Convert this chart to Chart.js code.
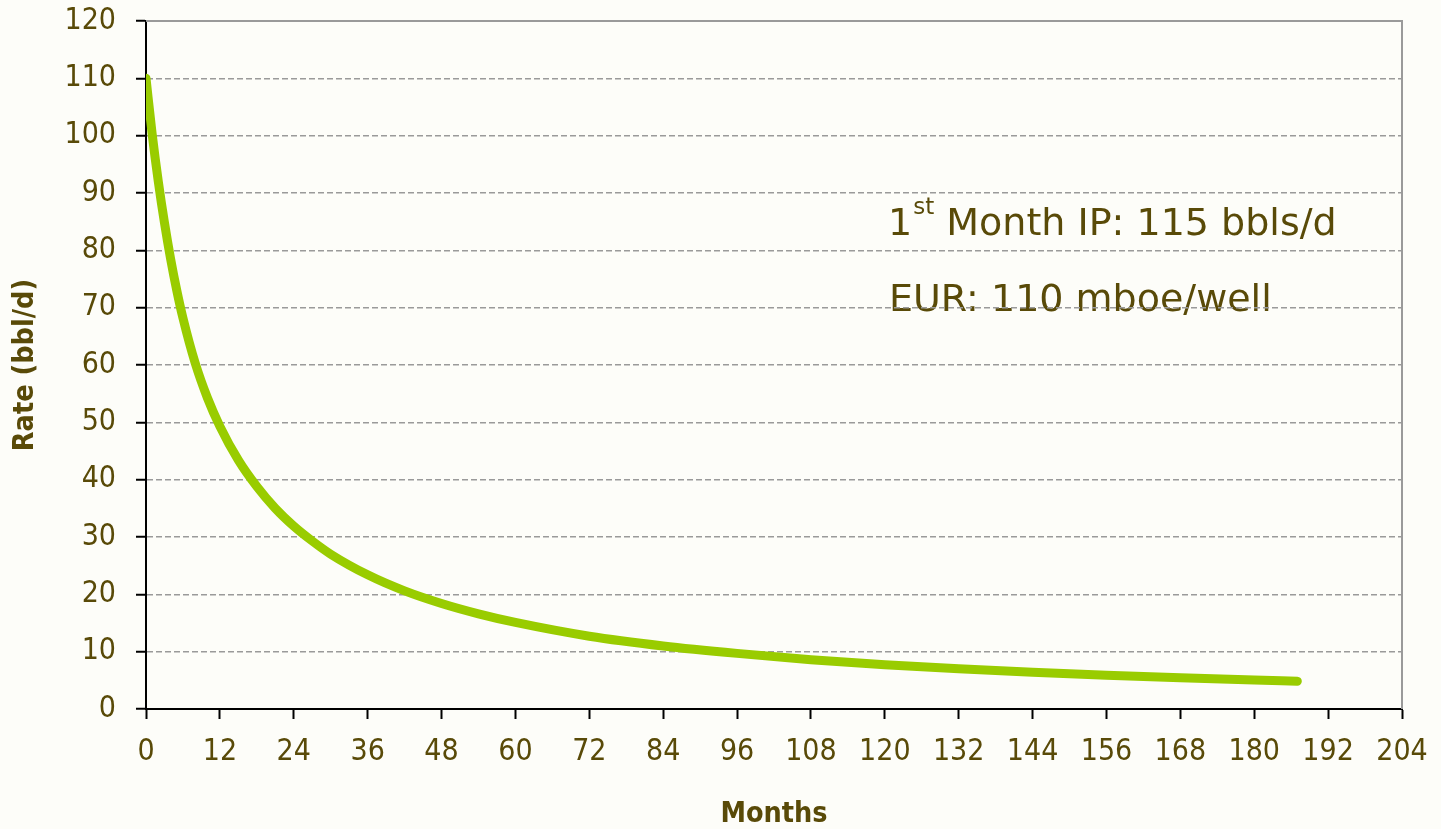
<!DOCTYPE html>
<html>
<head>
  <meta charset="UTF-8">
  <title>Type curve – rate vs months</title>
  <script src="https://cdn.jsdelivr.net/npm/chart.js"></script>
  <style>
    body { margin: 0; background: #fdfdf9; }
    canvas { display: block; }
  </style>
</head>
<body>
  <canvas id="chart" width="1441" height="829"></canvas>

  <script>
    // values
    const months = [0, 1, 2, 3, 4, 5, 6, 8, 10, 12, 15, 18, 21, 24, 27, 30, 36, 42, 48, 54, 60, 72, 84, 96, 108, 120, 132, 144, 156, 168, 180, 187];
    const rates = [110, 100.3, 92, 84.8, 78.5, 73, 68.2, 60.3, 54.2, 49.3, 43.4, 38.8, 35, 31.9, 29.3, 27, 23.4, 20.6, 18.4, 16.6, 15.1, 12.7, 11, 9.7, 8.6, 7.7, 7, 6.4, 5.9, 5.45, 5.05, 4.85];
    const xTitle = 'Months';
    const yTitle = 'Rate (bbl/d)';
    const noteLines = [['1', 'st', ' Month IP: 115 bbls/d'], ['', '', 'EUR: 110 mboe/well']];

    const txt = '#594a08';
    const fam = "'DejaVu Sans Condensed', 'DejaVu Sans', sans-serif";
    const noteFam = "'DejaVu Sans', sans-serif";
    Chart.defaults.font.family = fam;
    Chart.defaults.color = txt;

    const frame = {
      id: 'frame',
      beforeDraw(chart) {
        const { ctx, chartArea: a } = chart;
        ctx.save();
        ctx.fillStyle = txt;
        ctx.textBaseline = 'alphabetic';
        noteLines.forEach((parts, i) => {
          let x = a.left + (a.right - a.left) * 0.5908;
          const y = 235 + i * 76;
          ctx.font = '38px ' + noteFam;
          ctx.fillText(parts[0], x, y);
          x += ctx.measureText(parts[0]).width + 1;
          ctx.font = '23px ' + noteFam;
          ctx.fillText(parts[1], x, y - 21);
          x += ctx.measureText(parts[1]).width;
          ctx.font = '38px ' + noteFam;
          ctx.fillText(parts[2], x, y);
        });
        ctx.restore();
      },
      beforeDatasetsDraw(chart) {
        const { ctx, chartArea: a } = chart;
        ctx.save();
        ctx.strokeStyle = '#9a9a9a';
        ctx.lineWidth = 2;
        ctx.beginPath();
        ctx.moveTo(a.left, a.top);
        ctx.lineTo(a.right, a.top);
        ctx.lineTo(a.right, a.bottom);
        ctx.stroke();
        ctx.restore();
      }
    };

    new Chart(document.getElementById('chart').getContext('2d'), {
      type: 'line',
      data: {
        datasets: [{
          data: months.map((m, i) => ({ x: m, y: rates[i] })),
          borderColor: '#99cc00',
          borderWidth: 9,
          borderCapStyle: 'round',
          pointRadius: 0,
          cubicInterpolationMode: 'monotone',
          fill: false
        }]
      },
      options: {
        responsive: false,
        animation: false,
        layout: { padding: { top: 21, right: 39, left: 0, bottom: 0 } },
        plugins: { legend: { display: false }, tooltip: { enabled: false } },
        scales: {
          x: {
            type: 'linear',
            min: 0, max: 204,
            afterFit: s => { s.height = 120; s.paddingLeft = 0; s.paddingRight = 0; },
            ticks: { stepSize: 12, padding: 15, font: { size: 30 }, color: txt, maxRotation: 0 },
            grid: { drawOnChartArea: false, drawTicks: true, tickLength: 10, tickColor: '#000', tickWidth: 2 },
            border: { color: '#000', width: 2 },
            title: { display: true, text: xTitle, color: txt, font: { size: 28.5, weight: 'bold', lineHeight: 1 }, padding: { top: 0, bottom: 0 } }
          },
          y: {
            min: 0, max: 120,
            afterFit: s => { s.width = 146; s.paddingTop = 0; s.paddingBottom = 0; },
            ticks: { stepSize: 10, padding: 20, font: { size: 30 }, color: txt },
            grid: {
              color: c => (c.tick.value === 0 || c.tick.value === 120) ? 'rgba(0,0,0,0)' : '#9a9a9a',
              lineWidth: 1.5,
              tickLength: 10, tickColor: '#000', tickWidth: 2
            },
            border: { color: '#000', width: 2, dash: [6, 3] },
            title: { display: true, text: yTitle, color: txt, font: { size: 28.5, weight: 'bold', lineHeight: 1 }, padding: { top: 11, bottom: 0 } }
          }
        }
      },
      plugins: [frame]
    });
  </script>
</body>
</html>
